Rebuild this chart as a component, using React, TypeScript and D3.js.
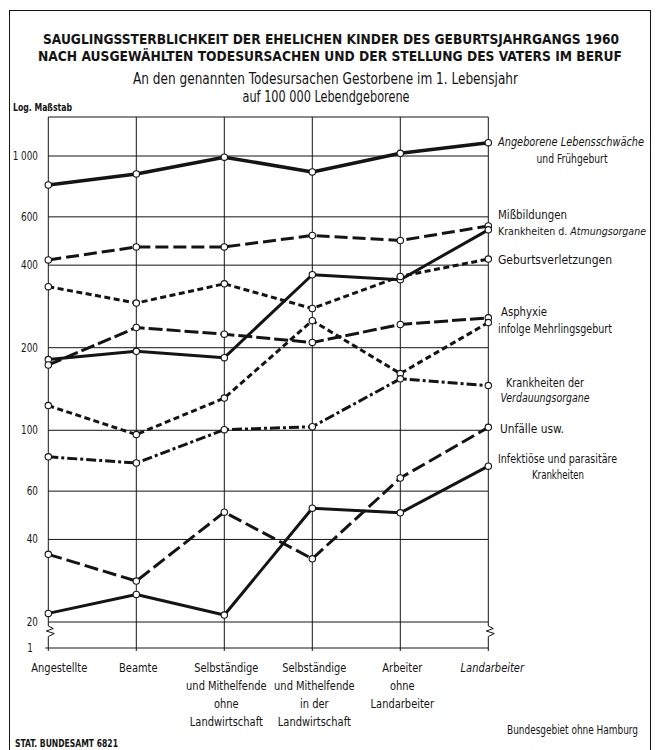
import React from "react";
import * as d3 from "d3";

const categories: string[][] = [
  ["Angestellte"],
  ["Beamte"],
  ["Selbständige", "und Mithelfende", "ohne", "Landwirtschaft"],
  ["Selbständige", "und Mithelfende", "in der", "Landwirtschaft"],
  ["Arbeiter", "ohne", "Landarbeiter"],
  ["Landarbeiter"],
];

const angeborene = [784, 860, 990, 875, 1023, 1118];
const missbildungen = [418, 466, 466, 513, 492, 556];
const atmungsorgane = [181, 194, 184, 369, 354, 538];
const geburtsverletzungen = [334, 291, 342, 278, 364, 421];
const asphyxie = [173, 237, 224, 209, 243, 257];
const mehrlingsgeburt = [123, 96.5, 131, 251, 161, 247];
const verdauungsorgane = [80, 76, 100.5, 103, 154, 145.5];
const unfaelle = [35.3, 28.2, 50.3, 34, 67, 102.5];
const infektioese = [21.5, 25.2, 21.2, 52, 50, 74];

const yTicks = [1000, 600, 400, 200, 100, 60, 40, 20];
const yTickLabels = ["1 000", "600", "400", "200", "100", "60", "40", "20"];

const FONT = "'DejaVu Sans Condensed', 'DejaVu Sans', sans-serif";
const ink = "#141414";

type S = { values: number[]; width: number; dash: string };
const series: S[] = [
  { values: angeborene, width: 3.6, dash: "" },
  { values: missbildungen, width: 3, dash: "13 5" },
  { values: atmungsorgane, width: 3, dash: "" },
  { values: geburtsverletzungen, width: 3, dash: "6 3.5" },
  { values: asphyxie, width: 3, dash: "14 4" },
  { values: mehrlingsgeburt, width: 3, dash: "6 3.5" },
  { values: verdauungsorgane, width: 3, dash: "10 3 3 3" },
  { values: unfaelle, width: 3, dash: "14 5" },
  { values: infektioese, width: 3, dash: "" },
];

function T(props: {
  x: number; y: number; sx?: number; len?: number; size: number; anchor?: string;
  bold?: boolean; italic?: boolean; children: React.ReactNode;
}) {
  const { x, y, sx = 1, len, size, anchor = "start", bold, italic, children } = props;
  const common = {
    fontSize: size, textAnchor: anchor as any, fill: ink,
    fontWeight: bold ? "bold" : "normal", fontStyle: italic ? "italic" : "normal",
  };
  if (len) {
    return (
      <text x={x} y={y} {...common} textLength={len} lengthAdjust="spacingAndGlyphs">{children}</text>
    );
  }
  return (
    <g transform={`translate(${x},${y}) scale(${sx},1)`}>
      <text x={0} y={0} {...common}>{children}</text>
    </g>
  );
}

export default function App() {
  const W = 659, H = 750;
  const left = 48.3, right = 488.3, top = 117, bottomLine = 648;
  const x = d3.scalePoint<number>().domain(d3.range(categories.length)).range([left, right]);
  const y = d3.scaleLog().domain([20, 1000]).range([622, 156]);
  const line = d3.line<number>().x((_, i) => x(i) as number).y((v) => y(v));
  const zig = (x0: number) =>
    `M${x0},${y(20)} L${x0},626 L${x0 + 5},628.5 L${x0 - 2},631 L${x0 + 6},633.5 L${x0},636.5 L${x0},${bottomLine}`;

  const rl = 498;
  return (
    <svg width={W} height={H} style={{ position: "absolute", left: 0, top: 0, background: "#fff" }} fontFamily={FONT}>
      <rect x={0} y={0} width={W} height={H} fill="#fff" />
      <rect x={9.5} y={10.5} width={641} height={740} fill="none" stroke={ink} strokeWidth={1} />
      {/* titles */}
      <T x={331} y={44} size={14} bold len={576} anchor="middle">
        SAUGLINGSSTERBLICHKEIT DER EHELICHEN KINDER DES GEBURTSJAHRGANGS 1960
      </T>
      <T x={330} y={61} size={14} bold len={584} anchor="middle">
        NACH AUSGEWÄHLTEN TODESURSACHEN UND DER STELLUNG DES VATERS IM BERUF
      </T>
      <T x={325.5} y={84} size={15.5} len={385} anchor="middle">
        An den genannten Todesursachen Gestorbene im 1. Lebensjahr
      </T>
      <T x={326} y={102} size={15.5} len={167} anchor="middle">
        auf 100 000 Lebendgeborene
      </T>
      <T x={13} y={111} size={10} bold len={59}>Log. Maßstab</T>

      {/* grid */}
      <g stroke={ink} strokeWidth={1} fill="none">
        <line x1={left} x2={right} y1={top} y2={top} />
        {yTicks.map((t) => (
          <line key={t} x1={left} x2={right} y1={y(t)} y2={y(t)} />
        ))}
        <line x1={left - 3} x2={right} y1={bottomLine} y2={bottomLine} />
        {categories.map((_, i) =>
          i === 0 || i === categories.length - 1 ? (
            <g key={i}>
              <line x1={x(i)} x2={x(i)} y1={top} y2={y(20)} />
              <path d={zig(x(i) as number)} />
              <line x1={x(i)} x2={x(i)} y1={bottomLine} y2={bottomLine + 3} />
            </g>
          ) : (
            <line key={i} x1={x(i)} x2={x(i)} y1={top} y2={bottomLine + 3} />
          )
        )}
      </g>
      {/* y labels */}
      {yTicks.map((t, i) => (
        <T key={t} x={38} y={y(t) + 4} size={12} sx={0.82} anchor="end">{yTickLabels[i]}</T>
      ))}
      <T x={33} y={bottomLine + 4} size={12} sx={0.82} anchor="end">1</T>

      {/* series */}
      {series.map((s, k) => (
        <path key={k} d={line(s.values) || ""} fill="none" stroke={ink} strokeWidth={s.width}
          strokeDasharray={s.dash} strokeLinejoin="round" />
      ))}
      {series.map((s, k) =>
        s.values.map((v, i) => (
          <circle key={k + "-" + i} cx={x(i)} cy={y(v)} r={3.2} fill="#fff" stroke={ink} strokeWidth={1.1} />
        ))
      )}

      {/* right labels */}
      <T x={rl} y={146} size={11.5} len={146} italic>Angeborene Lebensschwäche</T>
      <T x={572} y={163} size={12} len={71} anchor="middle">und Frühgeburt</T>
      <T x={rl} y={219} size={11.5} len={69}>Mißbildungen</T>
      <T x={rl} y={235} size={11} len={148}>Krankheiten d. <tspan fontStyle="italic">Atmungsorgane</tspan></T>
      <T x={rl} y={264} size={12} len={114}>Geburtsverletzungen</T>
      <T x={rl + 3} y={316} size={12} len={46}>Asphyxie</T>
      <T x={rl} y={333} size={11.5} len={114}>infolge Mehrlingsgeburt</T>
      <T x={545} y={387} size={12} len={78} anchor="middle">Krankheiten der</T>
      <T x={545} y={402} size={11.5} len={89} anchor="middle" italic>Verdauungsorgane</T>
      <T x={rl + 2} y={433} size={12} len={64}>Unfälle usw.</T>
      <T x={rl} y={463} size={11.5} len={119}>Infektiöse und parasitäre</T>
      <T x={558} y={479} size={12} len={52} anchor="middle">Krankheiten</T>

      {/* category labels */}
      {categories.map((lines, i) => {
        const cx = (x(i) as number) + (i === 0 ? 11 : i === categories.length - 1 ? 4 : 2);
        return lines.map((l, j) => (
          <T key={i + "-" + j} x={cx} y={672 + j * 18} size={12.5} sx={0.88} anchor="middle"
            italic={i === categories.length - 1}>{l}</T>
        ));
      })}
      <T x={638} y={734} size={11.5} len={131} anchor="end">Bundesgebiet ohne Hamburg</T>
      <T x={15} y={747} size={10} bold len={103}>STAT. BUNDESAMT 6821</T>
    </svg>
  );
}
